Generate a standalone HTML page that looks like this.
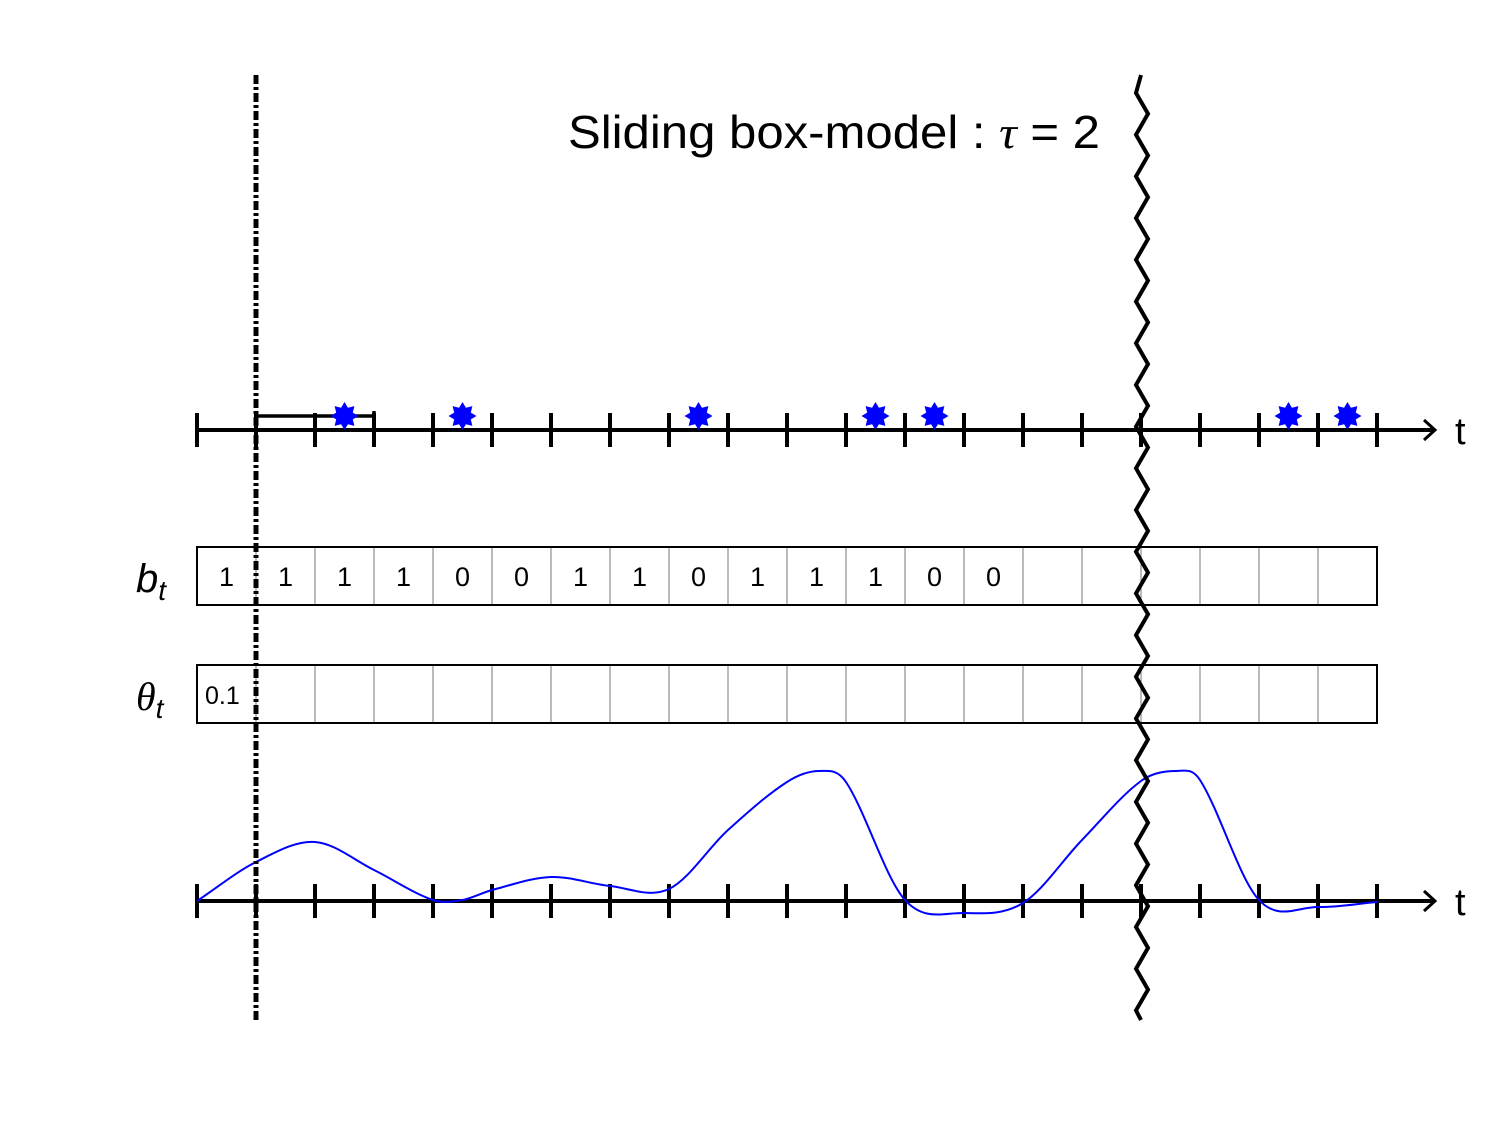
<!DOCTYPE html>
<html><head><meta charset="utf-8"><style>
html,body{margin:0;padding:0;background:#fff;}
svg{display:block;font-family:"Liberation Sans",sans-serif;}
</style></head><body>
<svg id="chart" width="1512" height="1134" viewBox="0 0 1512 1134">
<text x="568" y="148" font-size="46" textLength="532" lengthAdjust="spacingAndGlyphs">Sliding box-model : <tspan font-family="Liberation Serif" font-style="italic">τ</tspan> = 2</text>
<text x="136" y="592" font-size="40" font-style="italic">b<tspan font-size="28" dy="8">t</tspan></text>
<text x="136" y="710" font-size="40" font-style="italic" font-family="Liberation Serif">θ<tspan font-size="28" dy="8" font-family="Liberation Sans">t</tspan></text>
<g id="g"></g>
</svg>
<script>
const events = [2.5, 4.5, 8.5, 11.5, 12.5, 18.5, 19.5];
const bValues = ["1","1","1","1","0","0","1","1","0","1","1","1","0","0","","","","","",""];
const thetaValues = ["0.1","","","","","","","","","","","","","","","","","","",""];
const curveT = [0,1,2,3,4,4.5,5,6,7,8,9,10,10.55,11,12,13,14,15,16,16.6,17,18,19,20];
const curveV = [0,39,59,31,1,1,11,24,15,12,71,119,130,119,1,-12,-2,61,120,130,121,1,-6,-1];
const NS="http://www.w3.org/2000/svg";
const g=document.getElementById('g');
const X0=197, DX=59;
function xs(t){return X0+t*DX;}
function ys(v){return 901-v;}
function mk(tag,attrs){const e=document.createElementNS(NS,tag);for(const k in attrs)e.setAttribute(k,attrs[k]);g.appendChild(e);return e;}
function axis(y,nm){
  const a=mk('line',{x1:X0,y1:y,x2:1434,y2:y,stroke:'#000','stroke-width':4});
  
  
  const h=mk('path',{d:`M1424 ${y-10} L1435 ${y} L1424 ${y+10}`,fill:'none',stroke:'#000','stroke-width':3});
  
  
  for(let i=0;i<=20;i++){
    const tk=mk('line',{x1:xs(i),y1:y-17,x2:xs(i),y2:y+17,stroke:'#000','stroke-width':4});
    
    
  }
  const t=mk('text',{x:1455,y:y+14,'font-size':38});
  t.textContent='t';
  
  
}
axis(430,'event-axis');
axis(901,'signal-axis');
const br=mk('path',{d:`M${xs(1)} 416 L${xs(3)} 416 M${xs(3)} 411 L${xs(3)} 421`,fill:'none',stroke:'#000','stroke-width':3.5});


function starPath(cx,cy,r1,r2,n){let d='';for(let i=0;i<2*n;i++){const r=i%2?r2:r1;const a=-Math.PI/2+i*Math.PI/n;d+=(i?'L':'M')+(cx+r*Math.cos(a)).toFixed(1)+' '+(cy+r*Math.sin(a)).toFixed(1);}return d+'Z';}
events.forEach(t=>{
  const s=mk('path',{d:starPath(xs(t),416,14,9,8),fill:'#0000ff'});
  
  
});
function row(y,vals,nm){
  for(let i=0;i<vals.length;i++){
    const r=mk('rect',{x:xs(i),y:y,width:DX,height:58,fill:'none',stroke:'#777','stroke-width':1});
    
    
    if(vals[i]!==''){
      const t=mk('text',{x:xs(i)+DX/2,y:y+39,'font-size':27,'text-anchor':'middle',fill:'#000'});
      if(vals[i].length>2){t.setAttribute('x',xs(i)+8);t.setAttribute('text-anchor','start');t.setAttribute('font-size',25);}
      t.textContent=vals[i];
      
      
    }
  }
  const o=mk('rect',{x:X0,y:y,width:DX*vals.length,height:58,fill:'none',stroke:'#000','stroke-width':2});
  
  
}
row(547,bValues,'b');
row(665,thetaValues,'theta');
// non-uniform cubic Hermite curve
const n=curveT.length;
const m=curveT.map((t,i)=>{
  const a=Math.max(0,i-1),b=Math.min(n-1,i+1);
  return (curveV[b]-curveV[a])/(curveT[b]-curveT[a]);
});
let d=`M${xs(curveT[0]).toFixed(1)} ${ys(curveV[0]).toFixed(1)}`;
for(let i=0;i<n-1;i++){
  const h=curveT[i+1]-curveT[i];
  const t1=curveT[i]+h/3, t2=curveT[i+1]-h/3;
  const v1=curveV[i]+m[i]*h/3, v2=curveV[i+1]-m[i+1]*h/3;
  d+=` C${xs(t1).toFixed(1)} ${ys(v1).toFixed(1)} ${xs(t2).toFixed(1)} ${ys(v2).toFixed(1)} ${xs(curveT[i+1]).toFixed(1)} ${ys(curveV[i+1]).toFixed(1)}`;
}
const c=mk('path',{d:d,fill:'none',stroke:'#0000ff','stroke-width':2});


const dl=mk('line',{x1:256,y1:75,x2:256,y2:1020,stroke:'#000','stroke-width':5,'stroke-dasharray':'9 3 3 3'});


let z='M1141 75 L1136 93';let yy=93,left=true;
while(yy<1000){yy+=20.85;left=!left;z+=` L${left?1136:1148} ${yy.toFixed(1)}`;}
z+=` L1141 1020`;
const zz=mk('path',{d:z,fill:'none',stroke:'#000','stroke-width':4,'stroke-linejoin':'miter'});


</script>
</body></html>
